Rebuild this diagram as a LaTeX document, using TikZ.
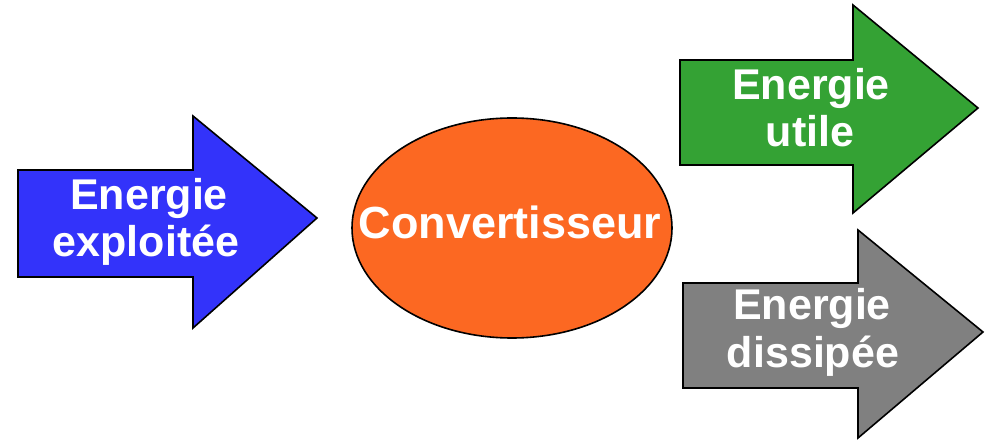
\documentclass[tikz,border=0pt]{standalone}
\usepackage{fontspec}
\setmainfont{Liberation Sans}
\definecolor{arrblue}{RGB}{51,51,250}
\definecolor{arrgreen}{RGB}{52,162,52}
\definecolor{arrgray}{RGB}{128,128,128}
\definecolor{convorange}{RGB}{252,104,34}
\tikzset{
  shapeline/.style={draw=black, line width=1.6pt, line join=miter},
  lbl/.style={text=white, font=\bfseries\fontsize{43}{47}\selectfont, anchor=base, inner sep=0pt},
}
\begin{document}
\begin{tikzpicture}[x=1pt,y=-1pt]
\useasboundingbox (0,0) rectangle (993,443);
% blue arrow
\draw[shapeline, fill=arrblue] (18,170) -- (193,170) -- (193,116) -- (317,218) -- (193,328) -- (193,277) -- (18,277) -- cycle;
\node[lbl] (b1) at (149,210) {Energie};
\node[lbl] (b2) at (146,257) {exploitée};
% ellipse
\draw[shapeline, fill=convorange] (512,228) ellipse [x radius=160, y radius=110];
\node[lbl, font=\bfseries\fontsize{45}{50}\selectfont] (c) at (510,239) {Convertisseur};
% green arrow
\draw[shapeline, fill=arrgreen] (680,60) -- (853,60) -- (853,5) -- (978,108) -- (853,213) -- (853,165) -- (680,165) -- cycle;
\node[lbl] (g1) at (811,100) {Energie};
\node[lbl] (g2) at (810,147) {utile};
% gray arrow
\draw[shapeline, fill=arrgray] (683,283) -- (858,283) -- (858,230) -- (983,332) -- (858,438) -- (858,388) -- (683,388) -- cycle;
\node[lbl] (d1) at (812,320) {Energie};
\node[lbl] (d2) at (813,368) {dissipée};
\end{tikzpicture}
\end{document}
